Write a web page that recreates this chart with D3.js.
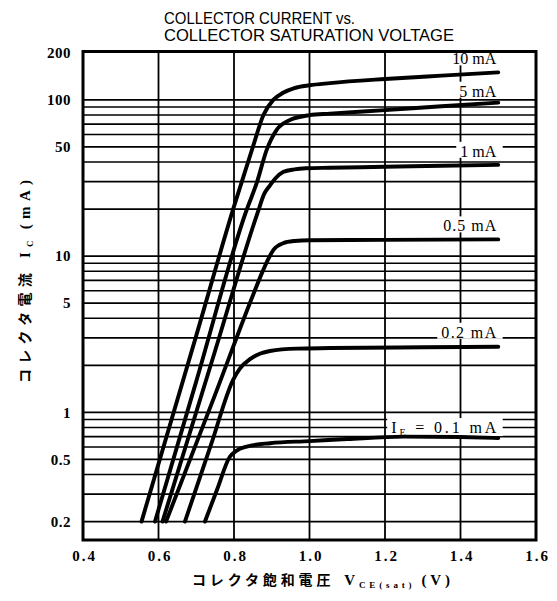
<!DOCTYPE html>
<html>
<head>
<meta charset="utf-8">
<script src="https://cdn.jsdelivr.net/npm/d3@7"></script>
<style>
  body { margin: 0; background: #fff; }
  svg { display: block; }
</style>
</head>
<body>
<svg id="chart" width="557" height="601"></svg>
<script>
// ---- data -------------------------------------------------------------
const xTickValues = [0.4, 0.6, 0.8, 1.0, 1.2, 1.4, 1.6];
const xGridValues = [0.6, 0.8, 1.0, 1.2, 1.4];
const yTickValues = [0.2, 0.5, 1, 5, 10, 50, 100, 200];
const yGridValues = [0.2, 0.3, 0.4, 0.5, 0.6, 0.7, 0.8, 0.9,
                     1, 2, 3, 4, 5, 6, 7, 8, 9,
                     10, 20, 30, 40, 50, 60, 70, 80, 90, 100];

// VCE(sat) [V] and IC [mA] for each base-current curve
const vce10mA = [0.555, 0.70, 0.80, 0.85, 0.878, 0.904, 0.93, 0.96, 1.0, 1.054, 1.2, 1.35, 1.5];
const ic10mA  = [0.2,   3.1,  20.8, 50,   80,    100,   111,  119,  124, 128,   136, 143,  150];

const vce5mA = [0.5907, 0.70, 0.8336, 0.86, 0.8866, 0.913, 0.948, 1.0, 1.054, 1.2, 1.35, 1.5];
const ic5mA  = [0.2,    1.58, 19.8,   29.3, 47.9,   64.3,  74.3,  79.8, 81.6, 86,  91,   96];

const vce1mA = [0.6106, 0.75, 0.8633, 0.88, 0.895, 0.91, 0.93, 0.96, 0.99, 1.054, 1.2, 1.35, 1.5];
const ic1mA  = [0.2,    2.48, 19.2,   25,   28.3,  31.5, 34.5, 35.9, 36.5, 36.8,  37.3, 37.9, 38.4];

const vce05mA = [0.62, 0.75, 0.85, 0.875, 0.89, 0.905, 0.93, 0.96, 1.0,  1.2,  1.5];
const ic05mA  = [0.2,  1.3,  5.6,  7.9,   9.5,  11.0,  12.1, 12.5, 12.65, 12.7, 12.8];

const vce02mA = [0.670, 0.74, 0.798, 0.815, 0.8424, 0.87, 0.8954, 0.966, 1.054, 1.3,  1.5];
const ic02mA  = [0.2,   0.63, 1.62,  1.9,   2.19,   2.38, 2.47,   2.56,  2.58,  2.61, 2.63];

const vce01mA = [0.723, 0.755, 0.789, 0.805, 0.8336, 0.8954, 1.0,   1.1,   1.25, 1.4,   1.5];
const ic01mA  = [0.2,   0.32,  0.52,  0.565, 0.604,  0.635,  0.655, 0.675, 0.70, 0.695, 0.685];

const curveLabels = ["10 mA", "5 mA", "1 mA", "0.5 mA", "0.2 mA", "0.1 mA"];
const curveVce = [vce10mA, vce5mA, vce1mA, vce05mA, vce02mA, vce01mA];
const curveIc  = [ic10mA,  ic5mA,  ic1mA,  ic05mA,  ic02mA,  ic01mA];

const titleLines = ["COLLECTOR CURRENT vs.", "COLLECTOR SATURATION VOLTAGE"];

// ---- layout -----------------------------------------------------------
const frame = { left: 83, right: 536, top: 51.5, bottom: 540 };
const svg = d3.select("#chart");

const x = d3.scaleLinear().domain([0.4, 1.6]).range([frame.left, frame.right]);
const y = d3.scaleLog().domain([0.1525, 204]).range([frame.bottom, frame.top]);

const serif = "'Liberation Serif', 'Times New Roman', serif";
const sans = "'Liberation Sans', Arial, sans-serif";
const cjk = "'Noto Sans CJK JP', sans-serif";

// title
const titleWidths = [191, 290];
svg.append("g").selectAll("text").data(titleLines).join("text")
  .attr("x", 164)
  .attr("y", (d, i) => 24 + i * 16.7)
  .attr("textLength", (d, i) => titleWidths[i])
  .attr("lengthAdjust", "spacingAndGlyphs")
  .style("font-family", sans)
  .style("font-size", "16px")
  .text(d => d);

// grid
const grid = svg.append("g").attr("stroke", "#000");
grid.selectAll("line.h").data(yGridValues).join("line")
  .attr("class", "h")
  .attr("x1", frame.left).attr("x2", frame.right)
  .attr("y1", d => y(d)).attr("y2", d => y(d))
  .attr("stroke-width", 1.6);
grid.selectAll("line.v").data(xGridValues).join("line")
  .attr("class", "v")
  .attr("y1", frame.top).attr("y2", frame.bottom)
  .attr("x1", d => x(d)).attr("x2", d => x(d))
  .attr("stroke-width", 1.8);

// curve labels sit just above each curve's right end, on a white patch
const labelDy = [-8, -6, -8, -8, -9, -5];
const labelWidths = [44, 37, 35, 53, 55, 105];
const boxLayer = svg.append("g");
const curveLayer = svg.append("g");
const textLayer = svg.append("g");

const line = d3.line().x(d => x(d[0])).y(d => y(d[1])).curve(d3.curveMonotoneX);

curveLabels.forEach((lab, i) => {
  const pts = curveVce[i].map((v, k) => [v, curveIc[i][k]]);
  curveLayer.append("path")
    .attr("d", line(pts))
    .attr("fill", "none")
    .attr("stroke", "#000")
    .attr("stroke-width", 3.9)
    .attr("stroke-linecap", "round");

  const last = pts[pts.length - 1];
  const t = textLayer.append("text")
    .attr("x", x(last[0]) - 2)
    .attr("y", y(last[1]) + labelDy[i])
    .attr("text-anchor", "end")
    .style("font-family", serif)
    .style("font-size", "16px");
  if (i === curveLabels.length - 1) {
    t.append("tspan").text("I");
    t.append("tspan").attr("dy", 3).style("font-size", "10px").text("E");
    t.append("tspan").attr("dy", -3).text(" = " + lab);
  } else {
    t.text(lab);
  }
  // widen the letter spacing only where the set width is larger
  const natural = t.node().getComputedTextLength();
  if (labelWidths[i] > natural) {
    t.attr("textLength", labelWidths[i]).attr("lengthAdjust", "spacing");
  }
  const bb = t.node().getBBox();
  boxLayer.append("rect")
    .attr("x", bb.x - 4).attr("y", bb.y - 1)
    .attr("width", bb.width + 10).attr("height", bb.height - 1)
    .attr("fill", "#fff");
});

// axes
const xAxis = d3.axisBottom(x).tickValues(xTickValues)
  .tickFormat(d3.format(".1f")).tickSize(0).tickPadding(10);
const gx = svg.append("g").attr("transform", `translate(0,${frame.bottom})`).call(xAxis);
gx.select(".domain").remove();
gx.selectAll("text")
  .style("font-family", serif).style("font-size", "15px")
  .style("font-weight", "bold").style("letter-spacing", "2px")
  .attr("dx", "1px");

const yAxis = d3.axisLeft(y).tickValues(yTickValues)
  .tickFormat(d => String(d)).tickSize(0).tickPadding(12);
const gy = svg.append("g").attr("transform", `translate(${frame.left},0)`).call(yAxis);
gy.select(".domain").remove();
gy.selectAll("text")
  .style("font-family", serif).style("font-size", "15px")
  .style("font-weight", "bold").style("letter-spacing", "0.5px");

// frame
svg.append("rect")
  .attr("x", frame.left).attr("y", frame.top)
  .attr("width", frame.right - frame.left).attr("height", frame.bottom - frame.top)
  .attr("fill", "none").attr("stroke", "#000").attr("stroke-width", 3);

// axis titles
const xt = svg.append("text")
  .attr("x", 192).attr("y", 585)
  .attr("textLength", 258).attr("lengthAdjust", "spacing")
  .style("font-size", "14px").style("font-weight", "bold");
xt.append("tspan").style("font-family", cjk).text("コレクタ飽和電圧");
xt.append("tspan").style("font-family", serif).style("font-size", "15px").attr("dx", 10).text("V");
xt.append("tspan").style("font-family", serif).style("font-size", "9px").attr("dy", 3).text("CE(sat)");
xt.append("tspan").style("font-family", serif).style("font-size", "15px").attr("dy", -3).attr("dx", 6).text("(V)");

const yt = svg.append("text")
  .attr("transform", "translate(30,383) rotate(-90)")
  .attr("x", 0).attr("y", 0)
  .attr("textLength", 203).attr("lengthAdjust", "spacing")
  .style("font-size", "14px").style("font-weight", "bold");
yt.append("tspan").style("font-family", cjk).text("コレクタ電流");
yt.append("tspan").style("font-family", serif).style("font-size", "15px").attr("dx", 10).text("I");
yt.append("tspan").style("font-family", serif).style("font-size", "9px").attr("dy", 3).text("C");
yt.append("tspan").style("font-family", serif).style("font-size", "15px").attr("dy", -3).attr("dx", 6).text("(mA)");
</script>
</body>
</html>
